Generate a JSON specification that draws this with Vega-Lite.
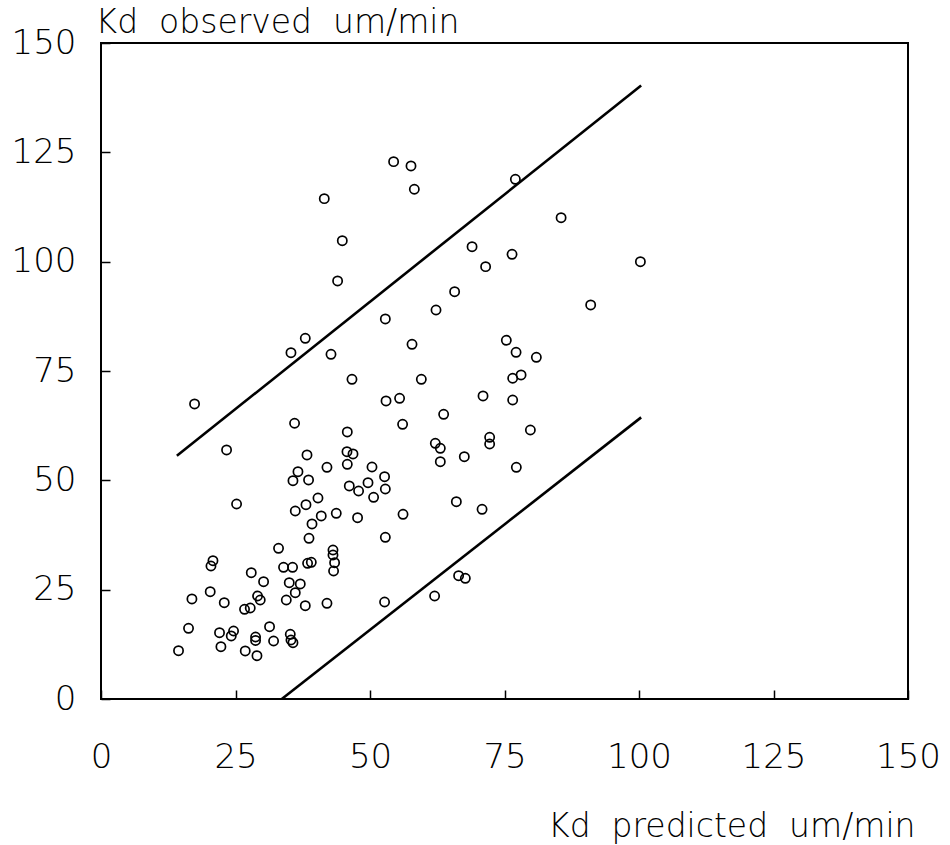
{
  "$schema": "https://vega.github.io/schema/vega-lite/v6.json",
  "width": 807,
  "height": 656,
  "autosize": {"type": "none"},
  "padding": {"left": 101, "top": 43, "right": 42, "bottom": 146},
  "background": "white",
  "config": {
    "view": {"stroke": "black", "strokeWidth": 2},
    "font": "DejaVu Sans"
  },
  "datasets": {
    "pts": [
      {"pred": 39.22, "obs": 40.02}, {"pred": 38.66, "obs": 36.75}, {"pred": 52.85, "obs": 36.98},
      {"pred": 33.0, "obs": 34.46}, {"pred": 43.12, "obs": 34.07}, {"pred": 43.12, "obs": 32.93},
      {"pred": 43.42, "obs": 31.17}, {"pred": 43.23, "obs": 29.27}, {"pred": 20.81, "obs": 31.63},
      {"pred": 20.44, "obs": 30.41}, {"pred": 20.3, "obs": 24.54}, {"pred": 16.9, "obs": 22.87},
      {"pred": 22.91, "obs": 22.02}, {"pred": 27.93, "obs": 28.88}, {"pred": 30.22, "obs": 26.82},
      {"pred": 33.93, "obs": 30.12}, {"pred": 35.61, "obs": 30.12}, {"pred": 38.4, "obs": 31.03},
      {"pred": 39.09, "obs": 31.26}, {"pred": 34.99, "obs": 26.59}, {"pred": 37.04, "obs": 26.3},
      {"pred": 36.11, "obs": 24.31}, {"pred": 34.44, "obs": 22.64}, {"pred": 37.97, "obs": 21.34},
      {"pred": 42.0, "obs": 21.88}, {"pred": 52.71, "obs": 22.18}, {"pred": 29.1, "obs": 23.55},
      {"pred": 29.6, "obs": 22.64}, {"pred": 26.68, "obs": 20.51}, {"pred": 27.74, "obs": 20.81},
      {"pred": 16.27, "obs": 16.17}, {"pred": 22.03, "obs": 15.16}, {"pred": 24.64, "obs": 15.55},
      {"pred": 24.21, "obs": 14.41}, {"pred": 22.29, "obs": 11.96}, {"pred": 14.41, "obs": 11.05},
      {"pred": 31.33, "obs": 16.53}, {"pred": 28.73, "obs": 14.18}, {"pred": 28.73, "obs": 13.38},
      {"pred": 32.08, "obs": 13.26}, {"pred": 26.81, "obs": 10.98}, {"pred": 28.99, "obs": 9.9},
      {"pred": 35.18, "obs": 14.8}, {"pred": 35.31, "obs": 13.49}, {"pred": 35.68, "obs": 12.87},
      {"pred": 17.39, "obs": 67.46}, {"pred": 23.34, "obs": 56.94}, {"pred": 35.98, "obs": 63.05},
      {"pred": 25.2, "obs": 44.59}, {"pred": 52.98, "obs": 68.15}, {"pred": 55.5, "obs": 68.76},
      {"pred": 56.06, "obs": 62.82}, {"pred": 45.78, "obs": 61.06}, {"pred": 38.29, "obs": 55.8},
      {"pred": 45.72, "obs": 56.55}, {"pred": 46.84, "obs": 56.03}, {"pred": 45.78, "obs": 53.67},
      {"pred": 50.37, "obs": 53.05}, {"pred": 36.61, "obs": 51.98}, {"pred": 35.68, "obs": 49.92},
      {"pred": 38.58, "obs": 50.08}, {"pred": 42.0, "obs": 52.98}, {"pred": 46.15, "obs": 48.71},
      {"pred": 47.88, "obs": 47.56}, {"pred": 49.63, "obs": 49.46}, {"pred": 52.71, "obs": 50.83},
      {"pred": 52.85, "obs": 48.02}, {"pred": 50.67, "obs": 46.12}, {"pred": 40.33, "obs": 45.96},
      {"pred": 38.1, "obs": 44.43}, {"pred": 36.11, "obs": 42.99}, {"pred": 40.94, "obs": 41.85},
      {"pred": 43.73, "obs": 42.47}, {"pred": 47.69, "obs": 41.46}, {"pred": 56.14, "obs": 42.24},
      {"pred": 54.39, "obs": 122.87}, {"pred": 57.62, "obs": 121.88}, {"pred": 58.24, "obs": 116.56},
      {"pred": 41.5, "obs": 114.41}, {"pred": 44.85, "obs": 104.8}, {"pred": 43.98, "obs": 95.59},
      {"pred": 77.02, "obs": 118.84}, {"pred": 68.97, "obs": 103.43}, {"pred": 76.4, "obs": 101.69},
      {"pred": 71.49, "obs": 98.86}, {"pred": 65.73, "obs": 93.14}, {"pred": 62.27, "obs": 88.95},
      {"pred": 52.85, "obs": 86.9}, {"pred": 37.97, "obs": 82.48}, {"pred": 35.31, "obs": 79.19},
      {"pred": 42.75, "obs": 78.82}, {"pred": 57.81, "obs": 81.11}, {"pred": 75.34, "obs": 82.02},
      {"pred": 77.15, "obs": 79.28}, {"pred": 80.92, "obs": 78.14}, {"pred": 46.65, "obs": 73.11},
      {"pred": 59.54, "obs": 73.11}, {"pred": 76.52, "obs": 73.34}, {"pred": 78.08, "obs": 74.09},
      {"pred": 71.01, "obs": 69.29}, {"pred": 76.52, "obs": 68.37}, {"pred": 63.69, "obs": 65.1},
      {"pred": 79.81, "obs": 61.51}, {"pred": 62.14, "obs": 58.47}, {"pred": 63.07, "obs": 57.33},
      {"pred": 63.07, "obs": 54.26}, {"pred": 67.53, "obs": 55.41}, {"pred": 72.24, "obs": 59.84},
      {"pred": 72.24, "obs": 58.31}, {"pred": 77.2, "obs": 52.98}, {"pred": 66.05, "obs": 45.12},
      {"pred": 70.83, "obs": 43.38}, {"pred": 66.47, "obs": 28.2}, {"pred": 67.72, "obs": 27.6},
      {"pred": 62.01, "obs": 23.55}, {"pred": 85.52, "obs": 110.06}, {"pred": 100.26, "obs": 100.0},
      {"pred": 91.02, "obs": 90.1}
    ],
    "bounds": [
      {"bound": "upper", "pred": 14.1, "obs": 55.6},
      {"bound": "upper", "pred": 100.4, "obs": 140.3},
      {"bound": "lower", "pred": 33.6, "obs": 0},
      {"bound": "lower", "pred": 100.4, "obs": 64.4}
    ]
  },
  "encoding": {
    "x": {
      "field": "pred",
      "type": "quantitative",
      "scale": {"domain": [0, 150], "nice": false, "zero": false},
      "axis": {
        "title": "Kd\u00a0 predicted\u00a0 um/min",
        "values": [0, 25, 50, 75, 100, 125, 150],
        "domain": false,
        "grid": false,
        "ticks": true,
        "tickSize": -9,
        "tickWidth": 1.5,
        "tickColor": "black",
        "labelPadding": 50,
        "labelFont": "DejaVu Sans",
        "labelFontSize": 34,
        "labelFontWeight": 200,
        "labelColor": "black",
        "labelFlush": false,
        "labelOverlap": false,
        "titleFont": "DejaVu Sans",
        "titleFontSize": 33,
        "titleFontWeight": 200,
        "titleColor": "black",
        "titleAnchor": null,
        "titleAlign": "right",
        "titleBaseline": "middle",
        "titleX": 814,
        "titleY": 127
      }
    },
    "y": {
      "field": "obs",
      "type": "quantitative",
      "scale": {"domain": [0, 150], "nice": false, "zero": false},
      "axis": {
        "title": "Kd\u00a0 observed\u00a0 um/min",
        "values": [0, 25, 50, 75, 100, 125, 150],
        "domain": false,
        "grid": false,
        "ticks": true,
        "tickSize": -9,
        "tickWidth": 1.5,
        "tickColor": "black",
        "labelPadding": 34,
        "labelFont": "DejaVu Sans",
        "labelFontSize": 34,
        "labelFontWeight": 200,
        "labelColor": "black",
        "labelFlush": false,
        "labelOverlap": false,
        "titleFont": "DejaVu Sans",
        "titleFontSize": 33,
        "titleFontWeight": 200,
        "titleColor": "black",
        "titleAngle": 0,
        "titleAnchor": null,
        "titleAlign": "left",
        "titleBaseline": "middle",
        "titleX": -6,
        "titleY": -21
      }
    }
  },
  "layer": [
    {
      "data": {"name": "bounds"},
      "mark": {"type": "line", "color": "black", "strokeWidth": 2.6},
      "encoding": {"detail": {"field": "bound", "type": "nominal"}}
    },
    {
      "data": {"name": "pts"},
      "mark": {"type": "point", "shape": "circle", "filled": false, "color": "black", "strokeWidth": 1.7, "size": 85, "opacity": 1}
    }
  ]
}
